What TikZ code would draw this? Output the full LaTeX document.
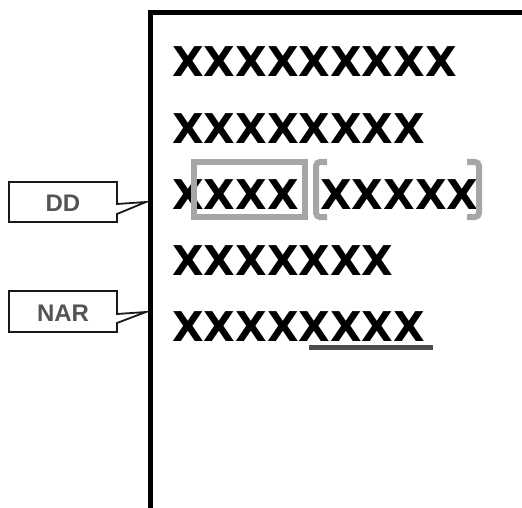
\documentclass[tikz,border=0pt]{standalone}
\usepackage{fontspec}
\newfontfamily\xfont{DejaVu Sans}[BoldFont={DejaVu Sans Bold}]
\newfontfamily\lblfont{Liberation Sans}
\begin{document}
\begin{tikzpicture}[x=1pt,y=-1pt,
  xrow/.style={anchor=base west,inner sep=0pt,font=\xfont\bfseries\fontsize{41}{41}\selectfont},
  callout/.style={draw=black!90,line width=1.8pt,fill=white,line join=miter},
  lbl/.style={font=\lblfont\bfseries\fontsize{24}{24}\selectfont,text=black!67},
  hilite/.style={draw=black!35,line width=6pt},
  ]
\useasboundingbox (0,0) rectangle (522,508);
% page
\draw[line width=5pt] (150.5,508) -- (150.5,12.5) -- (522,12.5);
% rows
\node[xrow] (r1) at (172,77) {XXXXXXXXX};
\node[xrow] (r2) at (172,143) {XXXXXXXX};
\node[xrow] (r3a) at (172,209) {XXXX};
\node[xrow] (r3b) at (320,209) {XXXXX};
\node[xrow] (r4) at (172,275) {XXXXXXX};
\node[xrow] (r5) at (172,341) {XXXXXXXX};
% highlight box and brackets
\draw[hilite] (194,162) rectangle (305,217);
\draw[hilite,rounded corners=4pt] (327,162) -- (316,162) -- (316,217) -- (327,217);
\draw[hilite,rounded corners=4pt] (467,162) -- (479,162) -- (479,217) -- (467,217);
% underline
\draw[draw=black!70,line width=5pt] (309,347.5) -- (433,347.5);
% callouts
\coordinate (tipD) at (146,202);
\coordinate (tipN) at (146,312);
\draw[callout] (9,182) -- (117,182) -- (117,204) -- (tipD) -- (117,214) -- (117,222) -- (9,222) -- cycle;
\node[lbl] (dd) at (63,203) {DD};
\draw[callout] (9,291) -- (117,291) -- (117,314) -- (tipN) -- (117,323) -- (117,332) -- (9,332) -- cycle;
\node[lbl] (nar) at (63,313) {NAR};
\end{tikzpicture}
\end{document}
